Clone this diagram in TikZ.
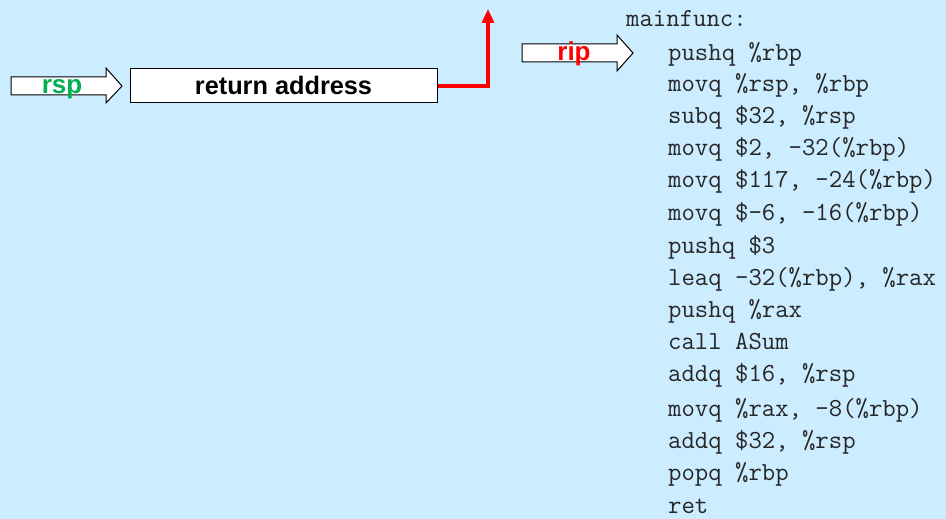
\documentclass[tikz,border=0pt]{standalone}
\usepackage{fontspec}
\setmainfont{Liberation Sans}
\usetikzlibrary{arrows.meta}
\definecolor{bg}{RGB}{204,236,255}
\definecolor{rspgreen}{RGB}{0,176,80}
\definecolor{ripred}{RGB}{255,0,0}
\tikzset{
  blockarrow/.style={draw=black, fill=white, line width=1pt, line join=miter},
  lbl/.style={font=\fontsize{26}{26}\selectfont\bfseries, inner sep=0pt, anchor=base},
  code/.style={font=\fontsize{26}{26}\selectfont\ttfamily, inner sep=0pt, anchor=base west, text=black!85},
  slot/.style={draw=black, fill=white, line width=1pt, inner sep=0pt},
}
\begin{document}
\begin{tikzpicture}[x=1pt,y=-1pt]
\fill[bg] (0,0) rectangle (946,519);
\useasboundingbox (0,0) rectangle (946,519);
% rsp block arrow
\draw[blockarrow] (11,77) -- (106,77) -- (106,68) -- (122,86) -- (106,103) -- (106,95) -- (11,95) -- cycle;
\node[lbl, text=rspgreen] (rsp) at (62,93) {rsp};
% return address slot
\node[slot, minimum width=307pt, minimum height=34pt] (ret) at (283.5,86) {};
\node[font=\fontsize{25.3}{25.3}\selectfont\bfseries, inner sep=0pt, anchor=base] (rettxt) at (283.5,95) {return address};
% red connector
\coordinate (top) at (488,9);
\draw[ripred, line width=4pt, line join=miter, -{Triangle[length=14pt,width=12pt]}] (ret.east) -- (488,86) -- (top);
% rip block arrow
\draw[blockarrow] (522,44) -- (617,44) -- (617,35) -- (633,53) -- (617,71) -- (617,62) -- (522,62) -- cycle;
\node[lbl, text=ripred] (rip) at (574,61) {rip};
% code
\node[code] (l0) at (626,27) {mainfunc:};
\node[code] (l1) at (668,61) {pushq \%rbp};
\node[code] (l2) at (668,92) {movq \%rsp, \%rbp};
\node[code] (l3) at (668,124) {subq \$32, \%rsp};
\node[code] (l4) at (668,155) {movq \$2, -32(\%rbp)};
\node[code] (l5) at (668,187) {movq \$117, -24(\%rbp)};
\node[code] (l6) at (668,220) {movq \$-6, -16(\%rbp)};
\node[code] (l7) at (668,253) {pushq \$3};
\node[code] (l8) at (668,285) {leaq -32(\%rbp), \%rax};
\node[code] (l9) at (668,317) {pushq \%rax};
\node[code] (l10) at (668,349) {call ASum};
\node[code] (l11) at (668,381) {addq \$16, \%rsp};
\node[code] (l12) at (668,416) {movq \%rax, -8(\%rbp)};
\node[code] (l13) at (668,448) {addq \$32, \%rsp};
\node[code] (l14) at (668,480) {popq \%rbp};
\node[code] (l15) at (668,513) {ret};
\end{tikzpicture}
\end{document}
